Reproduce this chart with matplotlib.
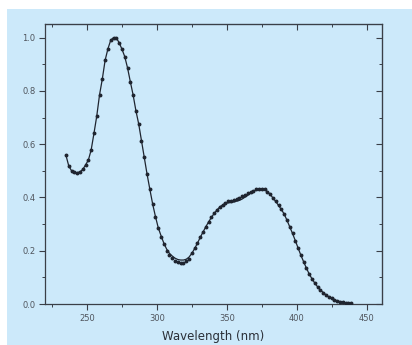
import matplotlib
matplotlib.use("Agg")
import matplotlib.pyplot as plt
from matplotlib.patches import Rectangle
from matplotlib.ticker import MultipleLocator

wavelength = list(range(235, 441, 2))

measured = [
    0.558, 0.518, 0.500, 0.494, 0.493, 0.496, 0.505, 0.522, 0.540, 0.578,
    0.640, 0.705, 0.785, 0.845, 0.915, 0.958, 0.990, 1.000, 0.999, 0.981,
    0.957, 0.929, 0.887, 0.835, 0.785, 0.726, 0.676, 0.613, 0.550, 0.487,
    0.430, 0.375, 0.328, 0.284, 0.253, 0.224, 0.200, 0.185, 0.172, 0.162,
    0.156, 0.153, 0.154, 0.160, 0.170, 0.192, 0.210, 0.228, 0.250, 0.270,
    0.290, 0.308, 0.325, 0.340, 0.353, 0.365, 0.373, 0.380, 0.385, 0.388,
    0.391, 0.395, 0.399, 0.404, 0.410, 0.416, 0.421, 0.426, 0.430, 0.432,
    0.433, 0.430, 0.422, 0.412, 0.398, 0.385, 0.370, 0.355, 0.338, 0.315,
    0.290, 0.265, 0.238, 0.210, 0.183, 0.158, 0.134, 0.112, 0.094, 0.078,
    0.064, 0.052, 0.043, 0.034, 0.027, 0.021, 0.016, 0.012, 0.009, 0.007,
    0.005, 0.004, 0.003,
]

calculated = [
    0.558, 0.518, 0.500, 0.494, 0.493, 0.496, 0.505, 0.522, 0.540, 0.578,
    0.640, 0.705, 0.785, 0.845, 0.915, 0.958, 0.990, 1.000, 0.999, 0.981,
    0.957, 0.929, 0.887, 0.835, 0.785, 0.726, 0.676, 0.613, 0.550, 0.487,
    0.430, 0.375, 0.328, 0.286, 0.256, 0.228, 0.206, 0.190, 0.180, 0.172,
    0.167, 0.165, 0.165, 0.168, 0.176, 0.190, 0.208, 0.228, 0.250, 0.270,
    0.290, 0.308, 0.325, 0.340, 0.353, 0.364, 0.372, 0.377, 0.380, 0.381,
    0.383, 0.386, 0.389, 0.394, 0.401, 0.408, 0.416, 0.422, 0.428, 0.431,
    0.433, 0.430, 0.422, 0.412, 0.398, 0.385, 0.370, 0.355, 0.338, 0.315,
    0.290, 0.265, 0.238, 0.210, 0.183, 0.158, 0.134, 0.112, 0.094, 0.078,
    0.064, 0.052, 0.043, 0.034, 0.027, 0.021, 0.016, 0.012, 0.009, 0.007,
    0.005, 0.004, 0.003,
]

x_ticks = [250, 300, 350, 400, 450]
y_ticks = [0.0, 0.2, 0.4, 0.6, 0.8, 1.0]

BG = "#cce9fa"
DARK = "#1f2530"
SPINE = "#3a3f47"
TXT = "#50555d"

W, H = 412, 345
fig = plt.figure(figsize=(W / 100, H / 100), dpi=100, facecolor="white")
fig.patches.append(Rectangle((7 / W, 0), 1 - 7 / W, 1 - 9 / H,
                             transform=fig.transFigure, facecolor=BG,
                             edgecolor="none", zorder=-10))

ax = fig.add_axes([45 / W, 41 / H, 337 / W, 280 / H])
ax.set_facecolor(BG)

ax.plot(wavelength, calculated, color=DARK, lw=0.9, zorder=2)
ax.plot(wavelength, measured, ls="none", marker="o", ms=1.8,
        color=DARK, mec=DARK, zorder=3)

ax.set_xlim(220, 461)
ax.set_ylim(0, 1.051)
ax.set_xticks(x_ticks)
ax.set_yticks(y_ticks)
ax.set_yticklabels([f"{v:.1f}" for v in y_ticks])
ax.xaxis.set_minor_locator(MultipleLocator(25))
ax.yaxis.set_minor_locator(MultipleLocator(0.1))

for s in ax.spines.values():
    s.set_color(SPINE)
    s.set_linewidth(0.9)

ax.tick_params(axis="both", which="major", direction="out", length=4,
               width=0.8, color=SPINE, labelsize=6, labelcolor=TXT, pad=3)
ax.tick_params(axis="both", which="minor", direction="out", length=2.5,
               width=0.7, color=SPINE)
ax.tick_params(top=False, right=False, which="both")

top = ax.secondary_xaxis("top")
top.set_xticks(x_ticks)
top.xaxis.set_minor_locator(MultipleLocator(25))
top.tick_params(which="major", direction="in", length=4, width=0.8,
                color=SPINE, labeltop=False)
top.tick_params(which="minor", direction="in", length=2.5, width=0.7,
                color=SPINE)
top.spines["top"].set_color(SPINE)

right = ax.secondary_yaxis("right")
right.set_yticks(y_ticks)
right.yaxis.set_minor_locator(MultipleLocator(0.1))
right.tick_params(which="major", direction="in", length=4, width=0.8,
                  color=SPINE, labelright=False)
right.tick_params(which="minor", direction="in", length=2.5, width=0.7,
                  color=SPINE)
right.spines["right"].set_color(SPINE)

ax.set_xlabel("Wavelength (nm)", fontsize=8.5, color="#2a2f37", labelpad=5.5)

fig.savefig("out.png", dpi=100, facecolor="white")
